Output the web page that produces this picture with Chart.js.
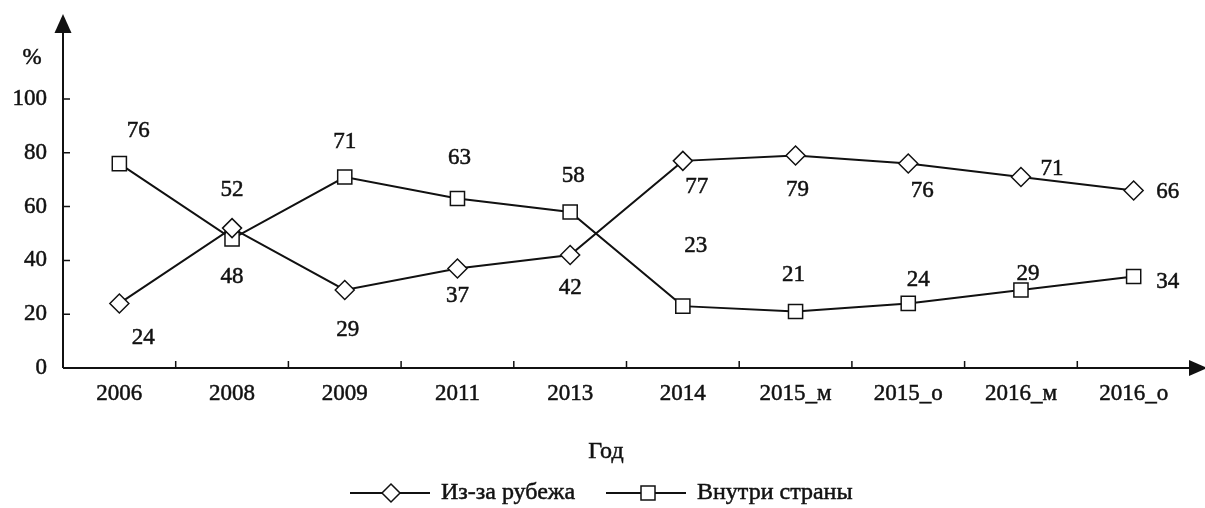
<!DOCTYPE html>
<html>
<head>
<meta charset="utf-8">
<script src="https://cdn.jsdelivr.net/npm/chart.js@4.4.1/dist/chart.umd.min.js"></script>
<style>
  html, body { margin: 0; background: #fff; }
  #wrap { width: 1205px; height: 508px; position: relative; }
</style>
</head>
<body>
<div id="wrap"><canvas id="chart"></canvas></div>
<script>
const years = ['2006', '2008', '2009', '2011', '2013', '2014', '2015_м', '2015_о', '2016_м', '2016_о']
const abroad = [24, 52, 29, 37, 42, 77, 79, 76, 71, 66]
const domestic = [76, 48, 71, 63, 58, 23, 21, 24, 29, 34]
const yTickValues = [0, 20, 40, 60, 80, 100]
const seriesNames = ['Из-за рубежа', 'Внутри страны']
const axisUnit = '%'
const axisTitle = 'Год'

// where each value label sits relative to its point (px)
const abroadShift = [[24, 35], [0, -38], [3, 40], [0, 27], [0, 33], [14, 26], [2, 34], [14, 27], [31, -8], [34, 1]]
const domesticShift = [[19, -33], [0, 38], [0, -35], [2, -41], [3, -36], [13, -60], [-2, -37], [10, -23], [7, -16], [34, 5]]

const ink = '#111'
const font = '"Liberation Serif", "DejaVu Serif", serif'
const fs = 23

// write text with a thin outline so it looks as heavy as the scan
function heavyText(ctx, s, px, py) {
  ctx.strokeText(s, px, py)
  ctx.fillText(s, px, py)
}

const extras = {
  id: 'extras',
  afterDraw(chart) {
    const { ctx, chartArea: a, scales: { x, y } } = chart
    ctx.save()
    ctx.strokeStyle = ink
    ctx.fillStyle = ink
    ctx.lineWidth = 2

    // axes
    ctx.beginPath()
    ctx.moveTo(a.left, a.bottom)
    ctx.lineTo(a.left, 28)
    ctx.moveTo(a.left, a.bottom)
    ctx.lineTo(1192, a.bottom)
    ctx.stroke()
    // arrows
    ctx.beginPath()
    ctx.moveTo(a.left, 14)
    ctx.lineTo(a.left - 8.5, 33)
    ctx.lineTo(a.left + 8.5, 33)
    ctx.closePath()
    ctx.fill()
    ctx.beginPath()
    ctx.moveTo(1207, a.bottom)
    ctx.lineTo(1189, a.bottom - 8)
    ctx.lineTo(1189, a.bottom + 8)
    ctx.closePath()
    ctx.fill()

    // inside ticks
    ctx.lineWidth = 1.5
    ctx.beginPath()
    yTickValues.forEach(v => {
      if (v === 0) return
      const py = y.getPixelForValue(v)
      ctx.moveTo(a.left, py)
      ctx.lineTo(a.left + 7, py)
    })
    const step = (a.right - a.left) / years.length
    for (let k = 1; k <= years.length; k++) {
      const px = a.left + k * step
      ctx.moveTo(px, a.bottom)
      ctx.lineTo(px, a.bottom - 7)
    }
    ctx.stroke()

    ctx.lineWidth = 0.5
    ctx.font = fs + 'px ' + font
    ctx.textAlign = 'center'
    ctx.textBaseline = 'middle'
    heavyText(ctx, axisUnit, 32, 58)

    // value labels
    const put = (vals, shift) => {
      vals.forEach((v, i) => {
        const px = x.getPixelForValue(i)
        const py = y.getPixelForValue(v)
        heavyText(ctx, String(v), px + shift[i][0], py + shift[i][1])
      })
    }
    put(abroad, abroadShift)
    put(domestic, domesticShift)

    ctx.font = '24px ' + font
    heavyText(ctx, axisTitle, 606, 452)

    // legend
    const ly = 493
    ctx.lineWidth = 2
    ctx.beginPath()
    ctx.moveTo(350, ly); ctx.lineTo(430, ly)
    ctx.moveTo(606, ly); ctx.lineTo(686, ly)
    ctx.stroke()
    ctx.fillStyle = '#fff'
    ctx.lineWidth = 1.5
    ctx.beginPath()
    ctx.moveTo(391, ly - 9); ctx.lineTo(400, ly); ctx.lineTo(391, ly + 9); ctx.lineTo(382, ly)
    ctx.closePath()
    ctx.fill(); ctx.stroke()
    ctx.fillRect(641, ly - 7, 14, 14)
    ctx.strokeRect(641, ly - 7, 14, 14)
    ctx.fillStyle = ink
    ctx.lineWidth = 0.5
    ctx.textAlign = 'left'
    heavyText(ctx, seriesNames[0], 441, ly)
    heavyText(ctx, seriesNames[1], 697, ly)
    ctx.restore()
  }
}

const tickFont = { family: font, size: fs }

new Chart(document.getElementById('chart'), {
  type: 'line',
  data: {
    labels: years,
    datasets: [
      {
        label: seriesNames[0],
        data: abroad,
        borderColor: ink,
        borderWidth: 2,
        pointStyle: 'rectRot',
        pointRadius: 9.5,
        pointBackgroundColor: '#fff',
        pointBorderColor: ink,
        pointBorderWidth: 1.5,
        tension: 0
      },
      {
        label: seriesNames[1],
        data: domestic,
        borderColor: ink,
        borderWidth: 2,
        pointStyle: 'rect',
        pointRadius: 10,
        pointBackgroundColor: '#fff',
        pointBorderColor: ink,
        pointBorderWidth: 1.5,
        tension: 0
      }
    ]
  },
  options: {
    responsive: true,
    maintainAspectRatio: false,
    animation: false,
    layout: { padding: { top: 99, right: 15, bottom: 0, left: 0 } },
    plugins: {
      legend: { display: false },
      tooltip: { enabled: false }
    },
    scales: {
      x: {
        type: 'category',
        offset: true,
        grid: { display: false, drawTicks: false },
        border: { display: false },
        ticks: {
          color: ink,
          font: tickFont,
          textStrokeColor: ink,
          textStrokeWidth: 0.5,
          padding: 12,
          maxRotation: 0,
          autoSkip: false
        },
        afterFit: s => { s.height = 140 }
      },
      y: {
        min: 0,
        max: 100,
        grid: { display: false, drawTicks: false },
        border: { display: false },
        afterBuildTicks: s => { s.ticks = yTickValues.map(v => ({ value: v })) },
        ticks: {
          color: ink,
          font: tickFont,
          textStrokeColor: ink,
          textStrokeWidth: 0.5,
          padding: 16
        },
        afterFit: s => { s.width = 63 }
      }
    }
  },
  plugins: [extras]
})
</script>
</body>
</html>
